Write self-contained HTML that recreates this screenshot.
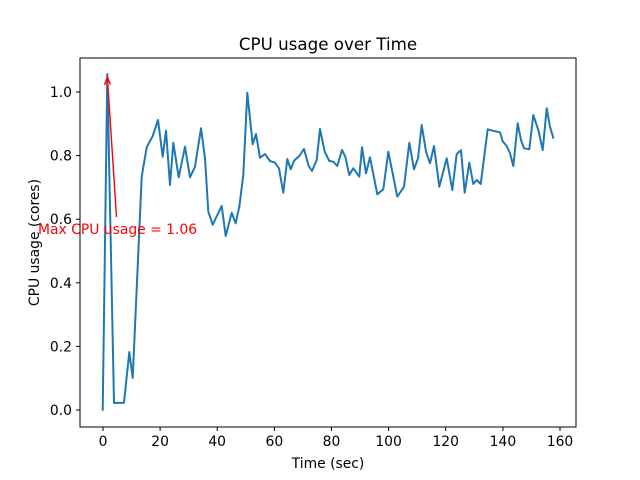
<!DOCTYPE html>
<html><head><style>body{margin:0;background:#fff}svg{display:block;font-family:"DejaVu Sans","Liberation Sans",sans-serif}</style></head>
<body>
<svg width="640" height="480" viewBox="0 0 640 480" xmlns="http://www.w3.org/2000/svg">
<rect width="640" height="480" fill="#fff"/>
<text x="328" y="50" font-size="16.7" text-anchor="middle">CPU usage over Time</text>
<polyline fill="none" stroke="#1f77b4" stroke-width="2" stroke-linejoin="round" points="102.7,410.7 107.3,74 114,403 124,402.7 129.3,352 132.7,378 141.7,176.7 146.7,147.3 152.7,136 158,120 162.7,156.7 166,130.7 170,185 173.3,142.7 178.7,177.3 185,146.7 190,177.3 195,166.7 201,128.3 205,158.3 208.3,211.7 212.7,224.7 221.7,206 225.7,236 231.7,212.7 235.7,223.3 239.3,206.7 243.3,175 247.3,92.7 252.7,144.3 256,134 260,157.7 265,154 270,161 275,162.7 279,168.3 283.3,192.7 287.3,159 290.7,169.3 294,160.7 299.3,156 304,149 308.7,166 312,171 316.7,160 320,129 324.7,151.7 329.3,161 333.3,161.7 337.3,166 342,150 345.3,156.7 349.3,175 353.3,168.3 359.3,176.7 362,147.3 366,173.3 370,157.3 377.3,194.3 383.3,189.3 388.3,151.7 397.3,196.7 404,186.7 409.3,142.7 414,169.3 418,158.3 421.7,125 426,151.7 430,163.3 434,146 439.3,186.7 446.7,158.3 452.3,190 456.7,154 461,150.3 464.7,192.7 469.3,162.7 473.3,184 476.7,180 480.7,184 487.7,129.3 492.7,130.7 500,132.3 502.7,141.3 506.7,146 510,153.3 513.3,166 517.7,123.3 521,140 524,148.3 529.3,149.3 533.3,115 538.3,130 542.7,150 546.7,108.3 550,126.7 553.5,138.7"/>
<line x1="116.5" y1="217" x2="107.5" y2="79" stroke="red" stroke-width="1.4"/>
<polyline points="104.5,85 107.3,77 110.5,84.5" fill="none" stroke="red" stroke-width="1.4"/>
<text x="38" y="234" font-size="13.9" fill="red">Max CPU usage = 1.06</text>
<rect x="80" y="58" width="496" height="369" fill="none" stroke="#000" stroke-width="1"/>
<g font-size="13.9" text-anchor="middle">
<g stroke="#000"><line x1="103" y1="427" x2="103" y2="431"/><line x1="160.1" y1="427" x2="160.1" y2="431"/><line x1="217.2" y1="427" x2="217.2" y2="431"/><line x1="274.4" y1="427" x2="274.4" y2="431"/><line x1="331.5" y1="427" x2="331.5" y2="431"/><line x1="388.6" y1="427" x2="388.6" y2="431"/><line x1="445.7" y1="427" x2="445.7" y2="431"/><line x1="502.9" y1="427" x2="502.9" y2="431"/><line x1="560" y1="427" x2="560" y2="431"/></g>
<text x="103" y="446">0</text><text x="160.1" y="446">20</text><text x="217.2" y="446">40</text><text x="274.4" y="446">60</text><text x="331.5" y="446">80</text><text x="388.6" y="446">100</text><text x="445.7" y="446">120</text><text x="502.9" y="446">140</text><text x="560" y="446">160</text>
<text x="328" y="468">Time (sec)</text>
</g>
<g font-size="13.9" text-anchor="end">
<g stroke="#000"><line x1="76" y1="410" x2="80" y2="410"/><line x1="76" y1="346.4" x2="80" y2="346.4"/><line x1="76" y1="282.8" x2="80" y2="282.8"/><line x1="76" y1="219.2" x2="80" y2="219.2"/><line x1="76" y1="155.6" x2="80" y2="155.6"/><line x1="76" y1="92" x2="80" y2="92"/></g>
<text x="72" y="415">0.0</text><text x="72" y="351.4">0.2</text><text x="72" y="287.8">0.4</text><text x="72" y="224.2">0.6</text><text x="72" y="160.6">0.8</text><text x="72" y="97">1.0</text>
</g>
<text transform="translate(39,242.5) rotate(-90)" font-size="13.9" text-anchor="middle">CPU usage (cores)</text>
</svg>
</body></html>
